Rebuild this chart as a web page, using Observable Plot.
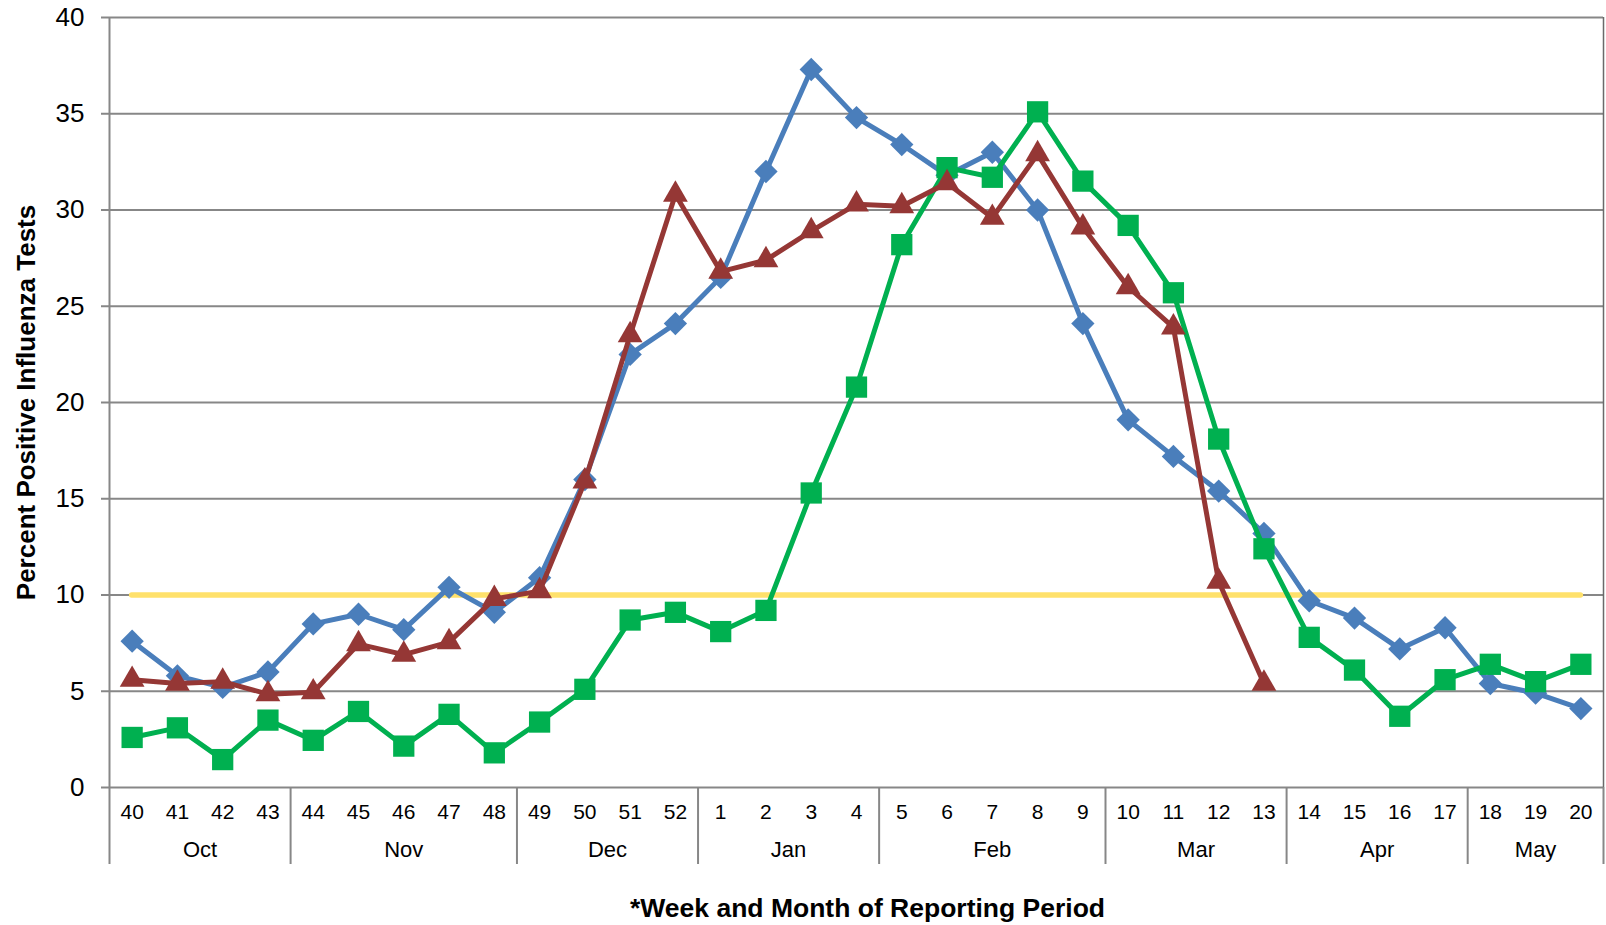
<!DOCTYPE html>
<html>
<head>
<meta charset="utf-8">
<script src="https://cdn.jsdelivr.net/npm/d3@7"></script>
<script src="https://cdn.jsdelivr.net/npm/@observablehq/plot@0.6"></script>
<style>
  html, body { margin: 0; padding: 0; background: white; }
</style>
</head>
<body>
<div id="chart"></div>
<script>
const weeks = ["40","41","42","43","44","45","46","47","48","49","50","51","52",
  "1","2","3","4","5","6","7","8","9","10","11","12","13","14","15","16","17","18","19","20"];
const months = ["Oct","Nov","Dec","Jan","Feb","Mar","Apr","May"];
const monthWeekCounts = [4, 5, 4, 4, 5, 4, 4, 3];
const yTicks = [0, 5, 10, 15, 20, 25, 30, 35, 40];
const threshold = 10;

// blue diamonds
const seriesBlue = [7.6, 5.8, 5.2, 6.0, 8.5, 9.0, 8.2, 10.4, 9.1, 10.9, 16.0, 22.5, 24.1,
  26.5, 32.0, 37.3, 34.8, 33.4, 31.8, 33.0, 30.0, 24.1, 19.1, 17.2, 15.4, 13.2, 9.7, 8.8, 7.2, 8.3, 5.4, 4.9, 4.1];
// red triangles
const seriesRed = [5.6, 5.4, 5.5, 4.85, 4.95, 7.45, 6.9, 7.55, 9.8, 10.2, 15.9, 23.5, 30.8,
  26.8, 27.4, 28.9, 30.3, 30.2, 31.4, 29.6, 32.9, 29.1, 26.0, 23.9, 10.7, 5.4, null, null, null, null, null, null, null];
// green squares
const seriesGreen = [2.6, 3.1, 1.45, 3.5, 2.45, 3.95, 2.15, 3.8, 1.8, 3.4, 5.1, 8.7, 9.1,
  8.1, 9.2, 15.3, 20.8, 28.2, 32.2, 31.7, 35.1, 31.5, 29.2, 25.7, 18.1, 12.4, 7.8, 6.1, 3.7, 5.6, 6.4, 5.5, 6.4];

const W = 1606, H = 925;
const mL = 109, mR = 3, mT = 17, mB = 138;
const innerH = H - mT - mB;

const idx = weeks.map((w, i) => i);
const toRows = vals => vals.map((v, i) => ({i, v})).filter(d => d.v != null);

// month boundaries & midpoints (in week-index units)
const boundaries = [-0.5];
monthWeekCounts.forEach(c => boundaries.push(boundaries[boundaries.length - 1] + c));
const monthRows = months.map((m, k) => ({m, x: (boundaries[k] + boundaries[k + 1]) / 2}));

const gridColor = "#878787";
const blue = "#4A7EBB", red = "#953735", green = "#00B050", yellow = "#FFE16B";

function series(vals, color, symbol, r) {
  const rows = toRows(vals);
  return [
    Plot.line(rows, {x: "i", y: "v", stroke: color, strokeWidth: 5, strokeLinejoin: "round"}),
    Plot.dot(rows, {x: "i", y: "v", symbol, r, fill: color, stroke: "none"})
  ];
}

const chart = Plot.plot({
  width: W, height: H,
  marginLeft: mL, marginRight: mR, marginTop: mT, marginBottom: mB,
  x: {domain: [-0.5, weeks.length - 0.5], axis: null},
  y: {domain: [0, 40], axis: null},
  style: {fontFamily: "'Liberation Sans', Arial, sans-serif", background: "white", color: "black"},
  marks: [
    Plot.gridY(yTicks, {stroke: gridColor, strokeOpacity: 1, strokeWidth: 2}),
    Plot.axisY(yTicks, {tickSize: 8, tickPadding: 17, fontSize: 26, stroke: gridColor, strokeWidth: 2, label: null}),
    Plot.ruleX(boundaries, {stroke: gridColor, strokeWidth: 2, insetTop: innerH, insetBottom: -77}),
    Plot.ruleX([-0.5], {stroke: gridColor, strokeWidth: 2}),
    Plot.ruleX([weeks.length - 0.5], {stroke: "#6a6a6a", strokeWidth: 1.5}),
    Plot.text(idx, {x: d => d, y: () => 0, text: d => weeks[d], dy: 25, fontSize: 21}),
    Plot.text(monthRows, {x: "x", y: () => 0, text: "m", dy: 62, fontSize: 22}),
    Plot.ruleY([threshold], {x1: 0, x2: weeks.length - 1, stroke: yellow, strokeWidth: 5.5, strokeLinecap: "round"}),
    ...series(seriesBlue, blue, "diamond2", 10.5),
    ...series(seriesGreen, green, "square", 12),
    ...series(seriesRed, red, "triangle", 9.2),
    Plot.text(["Percent Positive Influenza Tests"], {frameAnchor: "left", textAnchor: "middle", dx: -83, rotate: -90, fontSize: 26, fontWeight: "bold"}),
    Plot.text(["*Week and Month of Reporting Period"], {frameAnchor: "bottom", dx: 11, dy: 129, fontSize: 26.5, fontWeight: "bold"})
  ]
});
document.getElementById("chart").appendChild(chart);
</script>
</body>
</html>
